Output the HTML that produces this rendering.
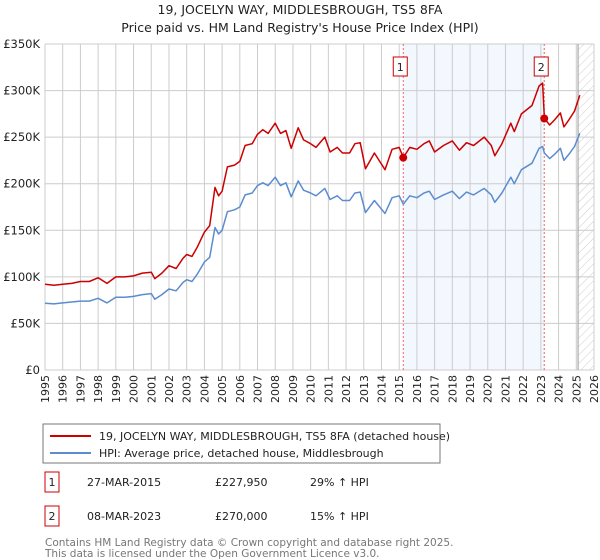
<!DOCTYPE html>
<html><head><meta charset="utf-8"><style>
body{margin:0;background:#fff;font-family:"Liberation Sans","DejaVu Sans",sans-serif;}
#wrap{position:relative;width:600px;height:560px;overflow:hidden;}
</style></head><body>
<div id="wrap">
<svg id="chart" width="600" height="560" style="position:absolute;left:0;top:0;font-family:'DejaVu Sans','Liberation Sans',sans-serif;">
<defs><pattern id="hatch" width="6" height="6" patternUnits="userSpaceOnUse" patternTransform="rotate(45)"><line x1="0" y1="0" x2="0" y2="6" stroke="#ccc" stroke-width="1"/></pattern></defs>
<text x="300" y="14" text-anchor="middle" font-size="12.5" fill="#222">19, JOCELYN WAY, MIDDLESBROUGH, TS5 8FA</text>
<text x="300" y="32" text-anchor="middle" font-size="12.5" fill="#222">Price paid vs. HM Land Registry's House Price Index (HPI)</text>
<g id="g"></g>
<rect x="43" y="424" width="397" height="39" fill="#fff" stroke="#777"/>
<line x1="50" y1="436" x2="91" y2="436" stroke="#cc0000" stroke-width="2"/>
<text x="99" y="440" font-size="11" fill="#222">19, JOCELYN WAY, MIDDLESBROUGH, TS5 8FA (detached house)</text>
<line x1="50" y1="453" x2="91" y2="453" stroke="#5b8ccf" stroke-width="2"/>
<text x="99" y="457" font-size="11" fill="#222">HPI: Average price, detached house, Middlesbrough</text>
<g font-size="11" fill="#222">
<rect x="45" y="472" width="14" height="20" fill="#fff" stroke="#cc0000"/>
<text x="52" y="486" text-anchor="middle">1</text>
<text x="87" y="486">27-MAR-2015</text>
<text x="215" y="486">£227,950</text>
<text x="310" y="486">29% ↑ HPI</text>
<rect x="45" y="506" width="14" height="20" fill="#fff" stroke="#cc0000"/>
<text x="52" y="520" text-anchor="middle">2</text>
<text x="87" y="520">08-MAR-2023</text>
<text x="215" y="520">£270,000</text>
<text x="310" y="520">15% ↑ HPI</text>
</g>
<text x="45" y="546" font-size="10.5" fill="#777">Contains HM Land Registry data © Crown copyright and database right 2025.</text>
<text x="45" y="557" font-size="10.5" fill="#777">This data is licensed under the Open Government Licence v3.0.</text>
</svg>
</div>
<script>
const hpiYears=[1995.0,1995.5,1996.0,1996.5,1997.0,1997.5,1998.0,1998.5,1999.0,1999.5,2000.0,2000.5,2001.0,2001.2,2001.6,2002.0,2002.4,2002.8,2003.0,2003.3,2003.6,2004.0,2004.3,2004.6,2004.8,2005.0,2005.3,2005.7,2006.0,2006.3,2006.7,2007.0,2007.3,2007.6,2008.0,2008.3,2008.6,2008.9,2009.3,2009.6,2010.0,2010.3,2010.8,2011.1,2011.5,2011.8,2012.2,2012.5,2012.8,2013.1,2013.6,2014.2,2014.6,2015.0,2015.23,2015.6,2016.0,2016.4,2016.7,2017.0,2017.5,2018.0,2018.4,2018.8,2019.2,2019.8,2020.2,2020.4,2020.8,2021.3,2021.5,2021.9,2022.5,2022.9,2023.1,2023.2,2023.5,2023.8,2024.1,2024.3,2024.6,2024.9,2025.2];
const hpiValues=[71.6,71,72,73,74,74,77,72,78,78,79,81,82,76,81,87,85,94,97,95,103,116,121,153,146,150,170,172,175,188,190,198,201,198,207,198,201,186,203,193,190,187,195,183,187,182,182,190,191,169,182,168,185,187,178,187,185,190,192,183,188,192,184,191,188,195,188,180,190,207,200,215,222,238,240,233,227,232,238,225,232,240,254];
const priceValues=[92,91,92,93,95,95,99,93,100,100,101,104,105,98,104,112,109,120,124,122,132,148,155,196,187,192,218,220,224,241,243,253,258,254,265,254,257,238,260,247,243,239,250,234,239,233,233,243,244,216,233,215,237,239,228,239,237,243,246,234,241,246,236,244,241,250,241,230,243,265,256,275,284,305,308,270,263,269,276,261,269,278,295];
const saleYears=[2015.23,2023.19];
const salePrices=[227.95,270];
const yTicks=[0,50,100,150,200,250,300,350];
const yTickLabels=["£0","£50K","£100K","£150K","£200K","£250K","£300K","£350K"];
const xTickYears=[1995,1996,1997,1998,1999,2000,2001,2002,2003,2004,2005,2006,2007,2008,2009,2010,2011,2012,2013,2014,2015,2016,2017,2018,2019,2020,2021,2022,2023,2024,2025,2026];

const X0=45,X1=594,Y0=370,Y1=44;
const xs=y=>X0+(y-1995)/(2026-1995)*(X1-X0);
const ys=v=>Y0-v/350*(Y0-Y1);
const NS="http://www.w3.org/2000/svg";
const g=document.getElementById('g');
function mk(t,a){const e=document.createElementNS(NS,t);for(const k in a)e.setAttribute(k,a[k]);g.appendChild(e);return e;}

let e=mk('rect',{x:xs(saleYears[0]),y:Y1,width:xs(saleYears[1])-xs(saleYears[0]),height:Y0-Y1,fill:'#eef3fd',opacity:0.7});


e=mk('rect',{x:xs(2025.1),y:Y1,width:X1-xs(2025.1),height:Y0-Y1,fill:'url(#hatch)'});


xTickYears.forEach(yr=>{
  const l=mk('line',{x1:xs(yr),x2:xs(yr),y1:Y1,y2:Y0,stroke:'#cccccc','stroke-width':1});
  
  
  const t=mk('text',{x:0,y:0,'font-size':11,fill:'#222','text-anchor':'end',transform:`translate(${xs(yr)+4},375) rotate(-90)`});
  t.textContent=yr;
  
  
});
yTicks.forEach((v,i)=>{
  const l=mk('line',{x1:X0,x2:X1,y1:ys(v),y2:ys(v),stroke:'#cccccc','stroke-width':1});
  
  
  const t=mk('text',{x:40,y:ys(v)+4,'font-size':11.5,fill:'#222','text-anchor':'end'});
  t.textContent=yTickLabels[i];
  
  
});
e=mk('line',{x1:xs(2025.1),x2:xs(2025.1),y1:Y1,y2:Y0,stroke:'#999','stroke-width':1});


saleYears.forEach((yr,i)=>{
  const l=mk('line',{x1:xs(yr),x2:xs(yr),y1:Y1,y2:Y0,stroke:'#ee6666','stroke-width':1,'stroke-dasharray':'2,2'});
  
  
  const r=mk('rect',{x:xs(yr)-10,y:57,width:14,height:19,fill:'#fff',stroke:'#cc0000'});
  
  
  const t=mk('text',{x:xs(yr)-3,y:71,'font-size':11,fill:'#222','text-anchor':'middle'});
  t.textContent=String(i+1);
  
  
});
const pts=(vals)=>hpiYears.map((y,i)=>xs(y).toFixed(1)+','+ys(vals[i]).toFixed(1)).join(' ');
e=mk('polyline',{points:pts(hpiValues),fill:'none',stroke:'#5b8ccf','stroke-width':1.5,'stroke-linejoin':'round'});


e=mk('polyline',{points:pts(priceValues),fill:'none',stroke:'#cc0000','stroke-width':1.5,'stroke-linejoin':'round'});


saleYears.forEach((yr,i)=>{
  const c=mk('circle',{cx:xs(yr),cy:ys(salePrices[i]),r:4,fill:'#cc0000'});
  
  
});
</script>
</body></html>
